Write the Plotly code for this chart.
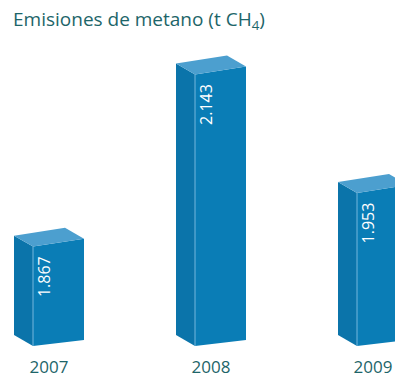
import plotly.graph_objects as go

# Emisiones de metano por año (t CH4)
years = ["2007", "2008", "2009"]
values = [1867, 2143, 1953]
value_labels = ["1.867", "2.143", "1.953"]

# Figure and axis set-up
W, H = 395, 378
MARGIN_B = 26
PLOT_H = H - MARGIN_B
BASE = 1707.5            # value at which the bars are drawn from
PX_PER_UNIT = 0.627      # vertical scale
SLOT_PX = 162            # distance between bar centres
FIRST_CENTER_PX = 49

y_min = BASE - 4 / PX_PER_UNIT
y_max = y_min + PLOT_H / PX_PER_UNIT
x_min = -FIRST_CENTER_PX / SLOT_PX
x_max = x_min + W / SLOT_PX

# pixel -> data unit conversions for the 3D offsets
ux = 1 / SLOT_PX
uy = 1 / PX_PER_UNIT

# bar shape (pixels)
SIDE_DX, SIDE_DY = 19, 11
FRONT_W = 51
TOP_SLOPE, BOTTOM_SLOPE = 8, 6
HALF = (SIDE_DX + FRONT_W) / 2

FRONT = "#0a7db6"
SIDE = "#0b74aa"
TOP = "#4c9fcf"
EDGE = "#74b7dd"
TEAL = "#1d6569"

fig = go.Figure()

for i, v in enumerate(values):
    ll = i - HALF * ux
    fl = ll + SIDE_DX * ux
    fr = fl + FRONT_W * ux
    b, t = BASE, v
    # left face
    fig.add_trace(go.Scatter(
        x=[ll, fl, fl, ll, ll],
        y=[b + SIDE_DY * uy, b, t, t + SIDE_DY * uy, b + SIDE_DY * uy],
        mode="lines", fill="toself", fillcolor=SIDE,
        line=dict(width=0, color=SIDE), hoverinfo="skip", showlegend=False))
    # front face
    fig.add_trace(go.Scatter(
        x=[fl, fr, fr, fl, fl],
        y=[b, b + BOTTOM_SLOPE * uy, t + TOP_SLOPE * uy, t, b],
        mode="lines", fill="toself", fillcolor=FRONT,
        line=dict(width=0, color=FRONT), hoverinfo="skip", showlegend=False))
    # top face
    fig.add_trace(go.Scatter(
        x=[ll, fl, fr, fr - SIDE_DX * ux, ll],
        y=[t + SIDE_DY * uy, t, t + TOP_SLOPE * uy,
           t + (TOP_SLOPE + SIDE_DY) * uy, t + SIDE_DY * uy],
        mode="lines", fill="toself", fillcolor=TOP,
        line=dict(width=0, color=TOP), hoverinfo="skip", showlegend=False))
    # highlight on the front-left edge
    fig.add_trace(go.Scatter(
        x=[fl, fl], y=[b, t], mode="lines",
        line=dict(width=1, color=EDGE), hoverinfo="skip", showlegend=False))
    # value label, rotated, near the top of the front face
    fig.add_annotation(
        x=fl + 11 * ux, y=t - 8 * uy, text=value_labels[i],
        textangle=-90, xanchor="center", yanchor="top", showarrow=False,
        font=dict(family="Open Sans", size=16, color="white"))

fig.add_annotation(
    xref="paper", yref="paper", x=11 / W, y=1 - 4 / PLOT_H,
    xanchor="left", yanchor="top", showarrow=False,
    text="Emisiones de metano (t CH<sub>4</sub>)",
    font=dict(family="Open Sans", size=19, color=TEAL))

fig.update_layout(
    width=W, height=H,
    margin=dict(l=0, r=0, t=0, b=MARGIN_B),
    paper_bgcolor="white", plot_bgcolor="white",
    xaxis=dict(range=[x_min, x_max], tickvals=[0, 1, 2], ticktext=years,
               showgrid=False, zeroline=False, showline=False, ticks="",
               ticklabelstandoff=5,
               tickfont=dict(family="Open Sans", size=17, color=TEAL),
               fixedrange=True),
    yaxis=dict(range=[y_min, y_max], visible=False, fixedrange=True),
)

fig.write_html("out.html")
